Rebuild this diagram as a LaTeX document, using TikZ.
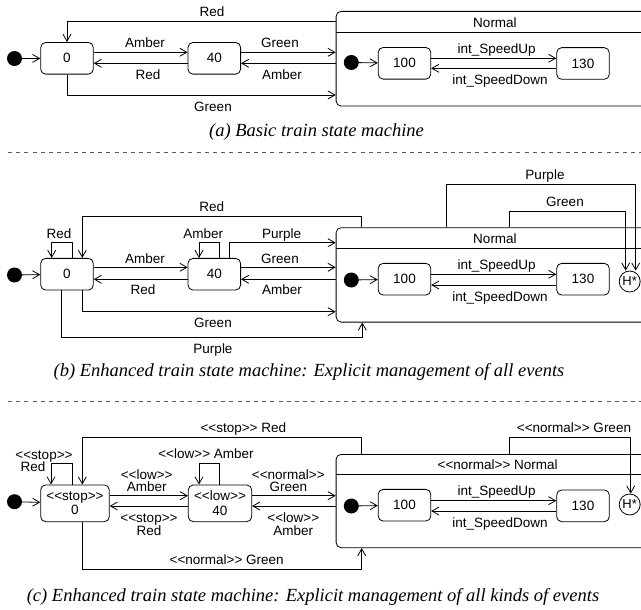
\documentclass[tikz,border=0pt]{standalone}
\usepackage{fontspec}
\setmainfont{Liberation Serif}
\newfontfamily\labfont{Liberation Sans}
\usetikzlibrary{arrows.meta}
\newcommand\sopen{<\kern0pt<}
\newcommand\sclose{>\kern0pt>}
\tikzset{
  lab/.style={font=\labfont\fontsize{13.5}{14}\selectfont, inner sep=0pt, text height=9.6pt, text depth=0pt},
  st/.style={draw, rounded corners=5pt, line width=0.8pt, minimum width=52.6pt, minimum height=31.7pt, inner sep=0pt, font=\labfont\fontsize{13.5}{14}\selectfont},
  sttwo/.style={st, align=center, minimum height=36.7pt, font=\labfont\fontsize{13.5}{14.5}\selectfont},
  nbox/.style={draw, rounded corners=5pt, line width=0.8pt, minimum width=340pt, inner sep=0pt},
  initdot/.style={circle, fill=black, minimum size=15pt, inner sep=0pt},
  hist/.style={circle, draw, line width=0.8pt, minimum size=21pt, inner sep=0pt, font=\labfont\fontsize{13}{14}\selectfont},
  arr/.style={-{Straight Barb[length=7pt,width=8pt]}, line width=0.8pt},
  ln/.style={line width=0.8pt},
  captext/.style={font=\itshape\fontsize{18.5}{20}\selectfont, inner sep=0pt},
  sep/.style={line width=0.8pt, gray!70!black, dash pattern=on 4pt off 4.2pt}
}
\begin{document}
\begin{tikzpicture}[x=1pt,y=-1pt]
\useasboundingbox (0,0) rectangle (641,610);
\clip (0,0) rectangle (641,610);

% ---------------- (a) ----------------
\node[initdot] (ia) at (14.5,58.5) {};
\node[st] (a0) at (67,58.3) {0};
\node[st] (a40) at (214.3,58.3) {40};
\node[nbox, minimum height=94.7pt, anchor=north west] (aN) at (335.7,11) {};
\draw[ln] (aN.west |- 0,32.3) -- (aN.east |- 0,32.3);
\node[lab] (aNt) at (495,22.3) {Normal};
\node[initdot] (aNi) at (351.3,62.5) {};
\node[st] (a100) at (404.5,63.3) {100};
\node[st] (a130) at (583,63.5) {130};
\draw[arr] (ia) -- (a0);
\draw[arr] (aNi) -- (a100);
\draw[arr] (a100.east |- 0,58.3) -- (a130.west |- 0,58.3);
\draw[arr] (a130.west |- 0,68.3) -- (a100.east |- 0,68.3);
\node[lab] (la1) at (496.7,48.3) {int\_SpeedUp};
\node[lab] (la2) at (500,80) {int\_SpeedDown};
\draw[arr] (a0.east |- 0,52.3) -- (a40.west |- 0,52.3);
\node[lab] (la3) at (145,43) {Amber};
\draw[arr] (a40.west |- 0,63.3) -- (a0.east |- 0,63.3);
\node[lab] (la4) at (148,75) {Red};
\draw[arr] (a40.east |- 0,52.3) -- (aN.west |- 0,52.3);
\node[lab] (la5) at (280,43) {Green};
\draw[arr] (aN.west |- 0,63.3) -- (a40.east |- 0,63.3);
\node[lab] (la6) at (282,75) {Amber};
\draw[arr] (aN.west |- 0,21) -| (a0.north);
\node[lab] (la7) at (212,12) {Red};
\draw[arr] (a0.south) |- (aN.west |- 0,95);
\node[lab] (la8) at (213,107) {Green};
\node[captext] (capa) at (316.5,132.5) {(a) Basic train state machine};

\coordinate (d1l) at (8,152.7);
\coordinate (d1r) at (641,152.7);
\draw[sep] (d1l) -- (d1r);

% ---------------- (b) ----------------
\node[initdot] (ib) at (14.5,275) {};
\node[st] (b0) at (67,274.2) {0};
\node[st] (b40) at (214.3,274.2) {40};
\node[nbox, minimum height=94.4pt, anchor=north west] (bN) at (335.7,227.3) {};
\draw[ln] (bN.west |- 0,248.3) -- (bN.east |- 0,248.3);
\node[lab] (bNt) at (495,238.3) {Normal};
\node[initdot] (bNi) at (351.3,280) {};
\node[st] (b100) at (404.5,279.2) {100};
\node[st] (b130) at (583,279.2) {130};
\node[hist] (bH) at (629.7,281.5) {H*};
\draw[arr] (ib) -- (b0);
\draw[arr] (bNi) -- (b100);
\draw[arr] (b100.east |- 0,274.3) -- (b130.west |- 0,274.3);
\draw[arr] (b130.west |- 0,285) -- (b100.east |- 0,285);
\node[lab] (lb1) at (496.7,264.3) {int\_SpeedUp};
\node[lab] (lb2) at (500,296.7) {int\_SpeedDown};
% self loops
\draw[arr] (b0.north -| 72.3,0) -- ++(0,-15.6) -| (b0.north -| 51.7,0);
\node[lab] (lb3) at (59,233.3) {Red};
\draw[arr] (b40.north -| 219.3,0) -- ++(0,-15.6) -| (b40.north -| 199,0);
\node[lab] (lb4) at (203.3,233.3) {Amber};
\draw[arr] (b40.north -| 229.3,0) |- (bN.west |- 0,242.7);
\node[lab] (lb5) at (281.7,233.3) {Purple};
\draw[arr] (b0.east |- 0,267.3) -- (b40.west |- 0,267.3);
\node[lab] (lb6) at (145,258.3) {Amber};
\draw[arr] (b40.west |- 0,279.3) -- (b0.east |- 0,279.3);
\node[lab] (lb7) at (143,290) {Red};
\draw[arr] (b40.east |- 0,267.3) -- (bN.west |- 0,267.3);
\node[lab] (lb8) at (280,258.3) {Green};
\draw[arr] (bN.west |- 0,279.3) -- (b40.east |- 0,279.3);
\node[lab] (lb9) at (282,290) {Amber};
\draw[arr] (bN.north -| 361.7,0) |- (82.3,216.7) -- (b0.north -| 82.3,0);
\node[lab] (lb10) at (211.7,206.7) {Red};
\draw[arr] (b0.south -| 82.3,0) |- (bN.west |- 0,311.7);
\node[lab] (lb11) at (213,322.7) {Green};
\draw[arr] (b0.south -| 61.7,0) |- (362.3,337.3) -- (bN.south -| 362.3,0);
\node[lab] (lb12) at (213,348.3) {Purple};
\draw[arr] (bN.north -| 446,0) |- (635.7,184.3) -- (bH.north -| 635.7,0);
\node[lab] (lb13) at (545,175) {Purple};
\draw[arr] (bN.north -| 509.3,0) |- (625.7,211) -- (bH.north -| 625.7,0);
\node[lab] (lb14) at (565,201.7) {Green};
\node[captext] (capb) at (309,371.7) {(b) Enhanced train state machine: Explicit management of all events};

\coordinate (d2l) at (8,401.7);
\coordinate (d2r) at (641,401.7);
\draw[sep] (d2l) -- (d2r);

% ---------------- (c) ----------------
\node[initdot] (ic) at (14.5,501.7) {};
\node[sttwo, minimum width=68.6pt] (c0) at (75,503.3) {\sopen stop\sclose\\0};
\node[sttwo, minimum width=63.4pt] (c40) at (220,503.3) {\sopen low\sclose\\40};
\node[nbox, minimum height=93.3pt, anchor=north west] (cN) at (335.7,454) {};
\draw[ln] (cN.west |- 0,474.3) -- (cN.east |- 0,474.3);
\node[lab] (cNt) at (497.7,465) {\sopen normal\sclose{} Normal};
\node[initdot] (cNi) at (351.3,506) {};
\node[st] (c100) at (404.5,505.2) {100};
\node[st] (c130) at (583,505.8) {130};
\node[hist] (cH) at (629.7,504.5) {H*};
\draw[arr] (ic) -- (c0);
\draw[arr] (cNi) -- (c100);
\draw[arr] (c100.east |- 0,500.7) -- (c130.west |- 0,500.7);
\draw[arr] (c130.west |- 0,511) -- (c100.east |- 0,511);
\node[lab] (lc1) at (496.7,491) {int\_SpeedUp};
\node[lab] (lc2) at (500,522.7) {int\_SpeedDown};
\draw[arr] (c0.north -| 72.3,0) -- ++(0,-21) -| (c0.north -| 51,0);
\node[lab] (lc3) at (44,454.5) {\sopen stop\sclose};
\node[lab] (lc4) at (33,467) {Red};
\draw[arr] (c40.north -| 219.3,0) -- ++(0,-21) -| (c40.north -| 199,0);
\node[lab] (lc5) at (206,454) {\sopen low\sclose{} Amber};
\draw[arr] (cN.north -| 361.7,0) |- (82.3,437.3) -- (c0.north -| 82.3,0);
\node[lab] (lc6) at (243.3,427.7) {\sopen stop\sclose{} Red};
\draw[arr] (c0.east |- 0,495.7) -- (c40.west |- 0,495.7);
\node[lab] (lc7) at (146.7,474.7) {\sopen low\sclose};
\node[lab] (lc8) at (146.7,487) {Amber};
\draw[arr] (c40.west |- 0,506) -- (c0.east |- 0,506);
\node[lab] (lc9) at (149,517.5) {\sopen stop\sclose};
\node[lab] (lc10) at (149,530.5) {Red};
\draw[arr] (c40.east |- 0,495.7) -- (cN.west |- 0,495.7);
\node[lab] (lc11) at (288.3,474.7) {\sopen normal\sclose};
\node[lab] (lc12) at (288.3,487) {Green};
\draw[arr] (cN.west |- 0,506) -- (c40.east |- 0,506);
\node[lab] (lc13) at (293.3,517.5) {\sopen low\sclose};
\node[lab] (lc14) at (293.3,530.3) {Amber};
\draw[arr] (c0.south -| 82.3,0) |- (361.7,569) -- (cN.south -| 361.7,0);
\node[lab] (lc15) at (226.7,559.3) {\sopen normal\sclose{} Green};
\draw[arr] (cN.north -| 509.3,0) |- (630.7,437.3) -- (cH.north -| 630.7,0);
\node[lab] (lc16) at (574,427.7) {\sopen normal\sclose{} Green};
\node[captext] (capc) at (313,596.7) {(c) Enhanced train state machine: Explicit management of all kinds of events};
\end{tikzpicture}
\end{document}
